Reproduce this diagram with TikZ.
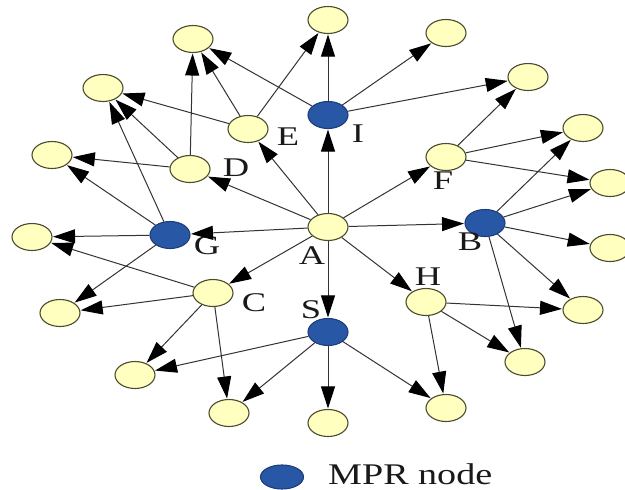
\documentclass[tikz,border=0pt]{standalone}
\usepackage{fontspec}
\setmainfont{Liberation Serif}
\usetikzlibrary{arrows.meta,shapes.geometric}
\definecolor{nodefill}{RGB}{255,255,192}
\definecolor{nodeedge}{RGB}{75,75,45}
\definecolor{mprfill}{RGB}{40,88,165}
\definecolor{mpredge}{RGB}{30,60,120}
\newcommand\widetext[2]{\scalebox{#1}[1]{#2}}

\begin{document}
\begin{tikzpicture}[x=1pt,y=-1pt,
  plain/.style={ellipse,draw=nodeedge,fill=nodefill,line width=1.1pt,
    minimum width=40pt,minimum height=27pt,inner sep=0pt},
  mpr/.style={plain,draw=mpredge,fill=mprfill},
  lbl/.style={text=black!90,font=\fontsize{27}{30}\selectfont,inner sep=0pt},
  link/.style={draw=black!80,line width=1pt,
    -{Triangle[length=22pt,width=14pt,color=black]},shorten >=0.5pt}
]
\useasboundingbox (0,0) rectangle (625,490);

% relay and source nodes
\node[plain] (A) at (328,227) {};
\node[mpr]   (I) at (328,115) {};
\node[mpr]   (S) at (328,332) {};
\node[mpr]   (G) at (170,235) {};
\node[mpr]   (B) at (485,223) {};
\node[plain] (E) at (248,129) {};
\node[plain] (D) at (190,169) {};
\node[plain] (F) at (446,157) {};
\node[plain] (C) at (213,293) {};
\node[plain] (H) at (426,302) {};

% outer neighbours
\node[plain] (n1)  at (193,39)  {};
\node[plain] (n2)  at (328,20)  {};
\node[plain] (n3)  at (446,33)  {};
\node[plain] (n4)  at (528,77)  {};
\node[plain] (n5)  at (583,128) {};
\node[plain] (n6)  at (610,183) {};
\node[plain] (n7)  at (610,248) {};
\node[plain] (n8)  at (583,310) {};
\node[plain] (n9)  at (525,362) {};
\node[plain] (n10) at (446,408) {};
\node[plain] (n11) at (328,423) {};
\node[plain] (n12) at (229,413) {};
\node[plain] (n13) at (135,375) {};
\node[plain] (n14) at (60,313)  {};
\node[plain] (n15) at (32,237)  {};
\node[plain] (n16) at (52,155)  {};
\node[plain] (n17) at (103,88)  {};

% labels
\node[lbl] (lA) at (312,256) {\widetext{1.35}{A}};
\node[lbl] (lI) at (358,134) {\widetext{1.35}{I}};
\node[lbl] (lS) at (311,310) {\widetext{1.35}{S}};
\node[lbl] (lG) at (207,246) {\widetext{1.35}{G}};
\node[lbl] (lB) at (470,242) {\widetext{1.35}{B}};
\node[lbl] (lE) at (288,137) {\widetext{1.35}{E}};
\node[lbl] (lD) at (236,168) {\widetext{1.35}{D}};
\node[lbl] (lF) at (443,181) {\widetext{1.35}{F}};
\node[lbl] (lC) at (254,303) {\widetext{1.35}{C}};
\node[lbl] (lH) at (428,277) {\widetext{1.35}{H}};

% links from A
\foreach \t in {I,E,D,G,F,B,C,S,H} \draw[link] (A) -- (\t);
% links from I
\foreach \t in {n2,n3,n4,n1} \draw[link] (I) -- (\t);
% links from E
\foreach \t in {n1,n2,n17} \draw[link] (E) -- (\t);
% links from D
\foreach \t in {n1,n17,n16} \draw[link] (D) -- (\t);
% links from G
\foreach \t in {n17,n16,n15,n14} \draw[link] (G) -- (\t);
% links from C
\foreach \t in {n15,n14,n13,n12} \draw[link] (C) -- (\t);
% links from S
\foreach \t in {n13,n12,n11,n10} \draw[link] (S) -- (\t);
% links from H
\foreach \t in {n10,n9,n8} \draw[link] (H) -- (\t);
% links from B
\foreach \t in {n9,n8,n7,n6,n5} \draw[link] (B) -- (\t);
% links from F
\foreach \t in {n4,n5,n6} \draw[link] (F) -- (\t);

% legend
\node[mpr,minimum width=43pt,minimum height=24pt] (key) at (282,477) {};
\node[text=black!90,font=\fontsize{30}{34}\selectfont,inner sep=0pt,anchor=base west]
  (keytext) at (328,484) {\widetext{1.27}{MPR node}};
\end{tikzpicture}
\end{document}
